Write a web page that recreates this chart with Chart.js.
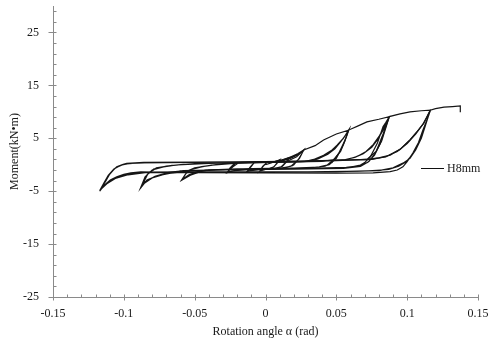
<!DOCTYPE html>
<html><head><meta charset="utf-8">
<script src="https://cdn.jsdelivr.net/npm/chart.js@4.4.0/dist/chart.umd.min.js"></script>
<style>html,body{margin:0;padding:0;background:#fff;}#wrap{width:488px;height:341px;position:relative}</style>
</head><body><div id="wrap"><canvas id="c" width="488" height="341"></canvas></div>
<script>
const xTicks = [-0.15,-0.1,-0.05,0,0.05,0.1,0.15];
const xTickLabels = ['-0.15','-0.1','-0.05','0','0.05','0.1','0.15'];
const yTicks = [-25,-15,-5,5,15,25];
const yTickLabels = ['-25','-15','-5','5','15','25'];
const seriesName = 'H8mm';
const xTitle = 'Rotation angle α (rad)';
const yTitle = 'Moment(kN•m)';

const loop007 = [[0.000,0.00],[0.004,0.35],[0.008,0.75],[0.010,0.90],[0.008,0.30],[0.006,-0.40],[0.003,-0.70],[-0.001,-0.85],[-0.003,-1.00],[-0.004,-1.20],[-0.002,-0.40],[0.001,0.45],[0.005,0.55],[0.008,0.70],[0.010,0.95],[0.008,0.20],[0.005,-0.60],[0.000,-0.90],[-0.004,-1.20],[-0.002,-0.30],[0.001,0.45]];
const loop015 = [[0.001,0.45],[0.005,0.50],[0.010,0.80],[0.014,1.10],[0.017,1.35],[0.015,0.60],[0.012,-0.30],[0.008,-0.70],[0.000,-0.90],[-0.008,-1.00],[-0.011,-1.10],[-0.013,-1.25],[-0.011,-0.50],[-0.008,0.40],[-0.003,0.45],[0.005,0.50],[0.011,0.75],[0.015,1.10],[0.017,1.35],[0.014,0.40],[0.011,-0.40],[0.006,-0.75],[-0.004,-0.95],[-0.012,-1.15],[-0.013,-1.25],[-0.010,-0.30],[-0.008,0.40],[0.000,0.45]];
const loop030 = [[0.000,0.45],[0.008,0.50],[0.012,0.90],[0.018,1.50],[0.023,2.10],[0.027,2.80],[0.0246,1.50],[0.0199,-0.07],[0.015,-0.50],[0.0104,-0.70],[0.000,-0.80],[-0.012,-0.90],[-0.020,-1.00],[-0.024,-1.20],[-0.027,-1.50],[-0.025,-0.60],[-0.022,0.20],[-0.018,0.40],[-0.010,0.45],[0.000,0.50],[0.008,0.55],[0.0175,1.20],[0.023,1.90],[0.027,2.80],[0.024,1.20],[0.019,-0.20],[0.012,-0.65],[0.000,-0.85],[-0.015,-0.95],[-0.023,-1.15],[-0.027,-1.45],[-0.024,-0.50],[-0.021,0.30],[-0.015,0.40],[0.000,0.50],[0.010,0.55],[0.018,1.30],[0.024,2.10],[0.027,2.75],[0.023,0.90],[0.018,-0.30],[0.010,-0.70],[-0.010,-0.90],[-0.022,-1.10],[-0.027,-1.40],[-0.023,-0.40],[-0.019,0.35],[0.000,0.50],[0.015,0.60]];
const loop058 = [[0.015,0.60],[0.022,1.50],[0.027,2.80],[0.035,3.60],[0.041,4.66],[0.050,5.80],[0.0587,6.55],[0.057,5.20],[0.055,4.03],[0.0505,1.50],[0.0434,-0.07],[0.038,-0.40],[0.0316,-0.60],[0.010,-0.75],[-0.020,-0.85],[-0.040,-1.00],[-0.046,-1.30],[-0.053,-2.00],[-0.059,-2.90],[-0.0554,-1.30],[-0.0507,-0.70],[-0.045,-0.35],[-0.041,-0.20],[-0.030,0.20],[-0.015,0.40],[0.000,0.50],[0.020,0.55],[0.027,0.56],[0.034,1.00],[0.041,1.80],[0.047,2.80],[0.0505,3.70],[0.055,5.00],[0.0587,6.55],[0.056,4.50],[0.052,2.30],[0.047,0.40],[0.042,-0.25],[0.034,-0.55],[0.010,-0.70],[-0.020,-0.80],[-0.042,-1.00],[-0.049,-1.40],[-0.055,-2.10],[-0.059,-2.85],[-0.056,-1.60],[-0.052,-0.90],[-0.046,-0.45],[-0.038,-0.05],[-0.020,0.35],[0.000,0.45],[0.025,0.55],[0.030,0.60],[0.037,1.10],[0.044,2.00],[0.049,3.00],[0.053,4.30],[0.056,5.40],[0.0587,6.50],[0.055,3.80],[0.050,1.20],[0.045,0.00],[0.038,-0.45],[0.020,-0.65],[-0.010,-0.75],[-0.040,-0.95],[-0.048,-1.30],[-0.054,-1.90],[-0.059,-2.80],[-0.055,-1.20],[-0.050,-0.60],[-0.040,-0.15],[-0.020,0.30],[0.010,0.50],[0.040,0.65]];
const loop087 = [[0.040,0.65],[0.048,0.90],[0.053,2.50],[0.056,4.50],[0.0587,6.55],[0.065,7.30],[0.0716,8.10],[0.080,8.60],[0.0874,9.10],[0.085,8.00],[0.083,7.20],[0.079,4.10],[0.074,1.50],[0.070,0.40],[0.067,-0.05],[0.061,-0.40],[0.055,-0.60],[0.030,-0.80],[0.000,-0.90],[-0.030,-1.00],[-0.055,-1.20],[-0.067,-1.60],[-0.0766,-2.10],[-0.0837,-2.90],[-0.0883,-4.47],[-0.085,-2.30],[-0.080,-1.00],[-0.072,-0.40],[-0.0625,-0.05],[-0.050,0.20],[-0.020,0.40],[0.020,0.55],[0.055,0.90],[0.063,1.40],[0.069,2.10],[0.075,3.30],[0.079,4.70],[0.083,6.50],[0.0874,9.10],[0.084,6.50],[0.081,4.00],[0.077,1.80],[0.072,0.40],[0.066,-0.20],[0.057,-0.50],[0.030,-0.70],[0.000,-0.85],[-0.030,-0.95],[-0.058,-1.10],[-0.069,-1.50],[-0.078,-2.20],[-0.085,-3.20],[-0.088,-4.40],[-0.084,-2.00],[-0.079,-0.80],[-0.070,-0.25],[-0.058,0.05],[-0.030,0.35],[0.000,0.50],[0.040,0.70],[0.057,0.95],[0.065,1.60],[0.071,2.50],[0.076,3.80],[0.080,5.30],[0.084,7.20],[0.0874,9.05],[0.083,5.80],[0.078,2.40],[0.073,0.60],[0.067,-0.30],[0.055,-0.70],[0.020,-0.85],[-0.020,-0.95],[-0.060,-1.15],[-0.070,-1.70],[-0.080,-2.50],[-0.086,-3.60],[-0.088,-4.40],[-0.083,-1.70],[-0.077,-0.60],[-0.066,-0.10],[-0.040,0.25],[0.000,0.50],[0.050,0.75],[0.0716,1.00]];
const loop117 = [[0.0716,1.00],[0.078,2.50],[0.082,4.50],[0.085,7.00],[0.0874,9.10],[0.095,9.60],[0.102,10.00],[0.110,10.20],[0.1163,10.30],[0.114,8.50],[0.111,6.50],[0.108,4.20],[0.104,2.20],[0.100,0.60],[0.097,-0.40],[0.093,-1.00],[0.088,-1.30],[0.076,-1.55],[0.050,-1.60],[0.000,-1.55],[-0.050,-1.50],[-0.080,-1.40],[-0.088,-1.35],[-0.095,-1.55],[-0.100,-1.80],[-0.105,-2.30],[-0.1096,-2.90],[-0.114,-3.90],[-0.117,-5.00],[-0.115,-4.00],[-0.113,-3.20],[-0.1096,-1.60],[-0.105,-0.40],[-0.101,0.05],[-0.098,0.25],[-0.086,0.44],[-0.050,0.50],[0.000,0.60],[0.040,0.80],[0.0716,1.00],[0.080,1.30],[0.088,1.80],[0.095,2.90],[0.102,4.70],[0.107,6.20],[0.1116,7.80],[0.1163,10.30],[0.113,7.50],[0.110,5.00],[0.106,2.80],[0.102,1.20],[0.097,0.30],[0.090,-0.60],[0.080,-1.10],[0.050,-1.30],[0.000,-1.35],[-0.050,-1.35],[-0.085,-1.40],[-0.095,-1.70],[-0.103,-2.20],[-0.110,-3.10],[-0.115,-4.20],[-0.117,-4.90],[-0.114,-3.40],[-0.111,-2.00],[-0.107,-0.80],[-0.102,-0.10],[-0.096,0.25],[-0.080,0.40],[-0.040,0.50],[0.000,0.60],[0.040,0.75],[0.070,0.95],[0.075,1.00],[0.085,1.50],[0.093,2.50],[0.100,4.00],[0.106,5.80],[0.111,7.60],[0.1163,10.20],[0.112,6.80],[0.108,4.00],[0.104,2.00],[0.099,0.50],[0.094,-0.30],[0.087,-0.90],[0.070,-1.20],[0.030,-1.35],[-0.030,-1.40],[-0.085,-1.50],[-0.097,-1.90],[-0.106,-2.60],[-0.112,-3.60],[-0.116,-4.60],[-0.117,-4.95],[-0.114,-3.60],[-0.110,-1.80],[-0.106,-0.60],[-0.100,0.10],[-0.090,0.35],[-0.050,0.45],[0.000,0.55],[0.050,0.80],[0.075,1.05]];
const finalPush = [[0.075,1.05],[0.085,1.50],[0.095,2.90],[0.102,4.70],[0.108,6.60],[0.1116,7.80],[0.1163,10.30],[0.120,10.60],[0.126,10.90],[0.132,11.00],[0.1375,11.10],[0.1375,9.90]];

const loops = [loop007, loop015, loop030, loop058, loop087, loop117, finalPush];
const FONT = '"Liberation Serif", "Times New Roman", serif';
const TXT = '#1a1a1a';
const AXIS = '#8a8a8a';

const axisPlugin = {
  id: 'axisTicks',
  afterDraw(chart) {
    const ctx = chart.ctx, xs = chart.scales.x, ys = chart.scales.y, ca = chart.chartArea;
    ctx.save();
    ctx.strokeStyle = AXIS; ctx.lineWidth = 1;
    const ax = Math.round(ca.left) + 0.5, ay = Math.round(ca.bottom) + 0.5;
    ctx.beginPath();
    ctx.moveTo(ax, ca.top); ctx.lineTo(ax, ay);
    ctx.moveTo(ax, ay); ctx.lineTo(ca.right, ay);
    for (let i = -15; i <= 15; i++) {
      const px = Math.round(xs.getPixelForValue(i / 100)) + 0.5;
      const major = i % 5 === 0;
      ctx.moveTo(px, ay - 3); ctx.lineTo(px, major ? ay + 3 : ay);
    }
    for (let v = -25; v <= 29; v += 2) {
      const py = Math.round(ys.getPixelForValue(v)) + 0.5;
      const major = (v + 25) % 10 === 0;
      ctx.moveTo(major ? ax - 5 : ax, py); ctx.lineTo(ax + 3, py);
    }
    ctx.stroke();
    const ly = Math.round(ca.top + 162) + 0.5;
    ctx.strokeStyle = '#111';
    ctx.beginPath(); ctx.moveTo(ca.right - 57, ly); ctx.lineTo(ca.right - 34, ly); ctx.stroke();
    ctx.fillStyle = TXT; ctx.font = '12px ' + FONT; ctx.textBaseline = 'middle'; ctx.textAlign = 'left';
    ctx.fillText(seriesName, ca.right - 31, ly);
    ctx.restore();
  }
};

const noPad = s => { s.paddingLeft = 0; s.paddingRight = 0; s.paddingTop = 0; s.paddingBottom = 0; };

new Chart(document.getElementById('c'), {
  type: 'scatter',
  data: {
    datasets: loops.map((arr, i) => ({
      label: i === 0 ? seriesName : seriesName + '_' + i,
      data: arr.map(p => ({x: p[0], y: p[1]})),
      showLine: true, borderColor: '#151515', borderWidth: 1.2,
      pointRadius: 0, tension: 0, fill: false
    }))
  },
  options: {
    responsive: false, animation: false, devicePixelRatio: 1,
    layout: {padding: {left: 0, right: 10, top: 6, bottom: 0}},
    plugins: {legend: {display: false}, tooltip: {enabled: false}},
    scales: {
      x: {
        type: 'linear', min: -0.15, max: 0.15,
        afterBuildTicks: s => { s.ticks = xTicks.map(v => ({value: v})); },
        afterFit: s => { s.height = 44; noPad(s); },
        ticks: {
          callback: v => xTickLabels[xTicks.findIndex(t => Math.abs(t - v) < 1e-9)],
          font: {family: FONT, size: 12}, color: TXT, padding: 10, maxRotation: 0, autoSkip: false
        },
        grid: {display: false, drawTicks: false},
        border: {display: false},
        title: {display: true, text: xTitle, font: {family: FONT, size: 12}, color: TXT, padding: {top: 0, bottom: 2}}
      },
      y: {
        type: 'linear', min: -25, max: 30,
        afterBuildTicks: s => { s.ticks = yTicks.map(v => ({value: v})); },
        afterFit: s => { s.width = 53; noPad(s); },
        ticks: {
          callback: v => yTickLabels[yTicks.indexOf(v)],
          font: {family: FONT, size: 12}, color: TXT, padding: 14, autoSkip: false
        },
        grid: {display: false, drawTicks: false},
        border: {display: false},
        title: {display: true, text: yTitle, font: {family: FONT, size: 12}, color: TXT, padding: {top: 8, bottom: 6}}
      }
    }
  },
  plugins: [axisPlugin]
});
</script></body></html>
